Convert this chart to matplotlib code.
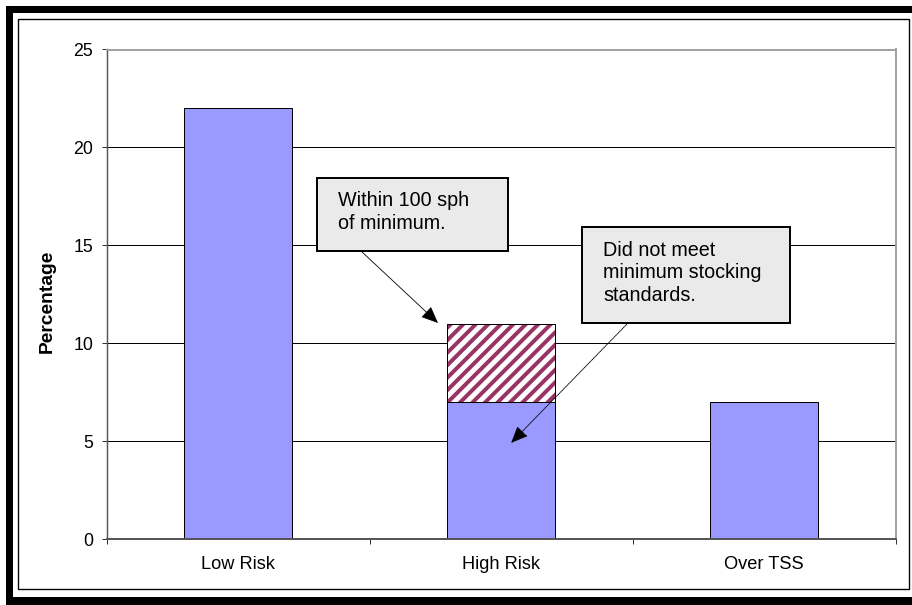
import matplotlib
matplotlib.use('Agg')
import matplotlib.pyplot as plt
from matplotlib.patches import Rectangle
import numpy as np

# ---- data ----
categories = ['Low Risk', 'High Risk', 'Over TSS']
base_values = [22, 7, 7]          # solid blue part
within_100 = [0, 4, 0]            # hatched part (within 100 sph of minimum)
yticks = [0, 5, 10, 15, 20, 25]
note_within = 'Within 100 sph\nof minimum.'
note_notmet = 'Did not meet\nminimum stocking\nstandards.'

DPI = 75
W, H = 912, 605
plt.rcParams['font.family'] = ['Liberation Sans', 'DejaVu Sans']
plt.rcParams['hatch.linewidth'] = 3.8

fig = plt.figure(figsize=(W / DPI, H / DPI), dpi=DPI)
fig.patch.set_facecolor('white')

def prect(x0, y0, x1, y1, **kw):
    r = Rectangle((x0 / W, 1 - y1 / H), (x1 - x0) / W, (y1 - y0) / H,
                  transform=fig.transFigure, **kw)
    fig.patches.append(r)
    return r

# outer frame (thick black bands) and inner thin frame
prect(6, 6, 12.7, 605, facecolor='black', edgecolor='none')
prect(6, 6, 912, 12.7, facecolor='black', edgecolor='none')
prect(6, 597, 912, 605, facecolor='black', edgecolor='none')
prect(18, 19, 909, 589, facecolor='none', edgecolor='black', linewidth=1.3)

# axes
ax = fig.add_axes([106.7 / W, 1 - 539 / H, (895.7 - 106.7) / W, (539 - 49.5) / H])
x = np.arange(len(categories))
bw = 0.41
ax.bar(x, base_values, width=bw, color='#9999FF', edgecolor='black', linewidth=0.96, zorder=2)
ax.bar(x, within_100, bottom=base_values, width=bw, color='white', edgecolor='#993366',
       hatch='//', linewidth=0, zorder=2)
mask = np.array(within_100) > 0
ax.bar(x[mask], np.array(within_100)[mask], bottom=np.array(base_values)[mask], width=bw,
       fill=False, edgecolor='black', linewidth=0.96, zorder=3)

ax.set_xlim(-0.5, len(categories) - 0.5)
ax.set_ylim(0, 25)
ax.set_yticks(yticks)
ax.set_yticklabels([str(v) for v in yticks], fontsize=17)
ax.set_axisbelow(True)
ax.yaxis.grid(True, color='black', linewidth=0.96)

ax.set_xticks(np.arange(len(categories) + 1) - 0.5)
ax.set_xticklabels([])
ax.set_xticks(x, minor=True)
ax.set_xticklabels(categories, minor=True, fontsize=17.5)
ax.tick_params(axis='x', which='minor', length=0, pad=16)
ax.tick_params(axis='x', which='major', length=5, width=0.96, color='#333333')
ax.tick_params(axis='y', length=5, width=0.96, color='#333333', pad=8)

for s in ['top', 'right']:
    ax.spines[s].set_color('#A0A0A0')
    ax.spines[s].set_linewidth(1.9)
ax.spines['left'].set_color('#555555')
ax.spines['bottom'].set_color('#555555')
ax.spines['left'].set_linewidth(1.4)
ax.spines['bottom'].set_linewidth(1.9)

ax.set_ylabel('Percentage', fontsize=18.5, fontweight='bold')
ax.yaxis.set_label_coords((56 - 106.7) / (895.7 - 106.7), (539 - 301) / (539 - 49.5))

# annotation boxes
prect(317, 178, 508, 251, facecolor='#EAEAEA', edgecolor='black', linewidth=1.9, zorder=5)
prect(582, 227, 790, 323, facecolor='#EAEAEA', edgecolor='black', linewidth=1.9, zorder=5)
fig.text(338 / W, 1 - 212 / H, note_within, fontsize=19, ha='left', va='center',
         linespacing=1.22, zorder=6)
fig.text(603 / W, 1 - 273 / H, note_notmet, fontsize=19, ha='left', va='center',
         linespacing=1.22, zorder=6)

ax.annotate('', xy=(438, H - 323), xycoords='figure pixels',
            xytext=(361, H - 251), textcoords='figure pixels',
            arrowprops=dict(arrowstyle='-|>,head_length=14,head_width=6', mutation_scale=1,
                            color='black', lw=0.8, shrinkA=0, shrinkB=0),
            annotation_clip=False, zorder=7)
ax.annotate('', xy=(511, H - 443), xycoords='figure pixels',
            xytext=(628, H - 323), textcoords='figure pixels',
            arrowprops=dict(arrowstyle='-|>,head_length=14,head_width=6', mutation_scale=1,
                            color='black', lw=0.9, linestyle=(0, (1, 1)), shrinkA=0, shrinkB=0),
            annotation_clip=False, zorder=7)

fig.savefig('out.png', dpi=DPI)
